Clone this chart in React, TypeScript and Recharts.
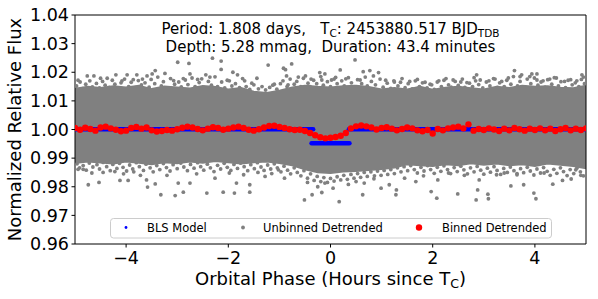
import {
  Area,
  ComposedChart,
  Label,
  Legend,
  Line,
  ReferenceArea,
  Scatter,
  XAxis,
  YAxis,
} from "recharts";

// dense core of the unbinned cloud, read as a lower / upper envelope
const phaseGrid = [
  -5, -4.75, -4.5, -4.25, -4, -3.75, -3.5, -3.25, -3, -2.75, -2.5, -2.25, -2,
  -1.75, -1.5, -1.25, -1, -0.75, -0.5, -0.25, 0, 0.25, 0.5, 0.75, 1, 1.25, 1.5,
  1.75, 2, 2.25, 2.5, 2.75, 3, 3.25, 3.5, 3.75, 4, 4.25, 4.5, 4.75, 5,
];
const coreHigh = [
  1.0143, 1.015, 1.0146, 1.0152, 1.0148, 1.0154, 1.0142, 1.0151, 1.0148, 1.0144,
  1.0153, 1.0149, 1.0141, 1.0146, 1.0133, 1.0128, 1.0136, 1.0148, 1.0154, 1.015,
  1.0148, 1.0152, 1.0154, 1.0149, 1.0141, 1.0146, 1.0141, 1.015, 1.014, 1.0147,
  1.015, 1.0145, 1.0141, 1.015, 1.0146, 1.0154, 1.015, 1.0152, 1.0147, 1.0145,
  1.0154,
];
const coreLow = [
  0.9882, 0.9887, 0.9884, 0.988, 0.9887, 0.9883, 0.9878, 0.9885, 0.9881, 0.9887,
  0.9883, 0.9889, 0.9885, 0.988, 0.9885, 0.9887, 0.9882, 0.9874, 0.986, 0.985,
  0.9847, 0.9852, 0.9854, 0.9858, 0.9861, 0.9866, 0.9878, 0.9874, 0.9872, 0.9878,
  0.9874, 0.9881, 0.9876, 0.988, 0.9874, 0.9878, 0.9872, 0.988, 0.9876, 0.9872,
  0.9864,
];

// semi-dense speckle just outside the core (top edge, then bottom edge)
const fringePhase = [
  -4.97, -4.9, -4.85, -4.79, -4.71, -4.66, -4.58, -4.52, -4.46, -4.41, -4.33,
  -4.27, -4.22, -4.15, -4.1, -4.03, -3.95, -3.9, -3.82, -3.76, -3.7, -3.63,
  -3.55, -3.51, -3.44, -3.38, -3.31, -3.27, -3.19, -3.13, -3.05, -2.97, -2.92,
  -2.84, -2.79, -2.71, -2.65, -2.57, -2.52, -2.46, -2.39, -2.33, -2.26, -2.21,
  -2.13, -2.07, -1.98, -1.93, -1.86, -1.78, -1.72, -1.65, -1.58, -1.5, -1.41,
  -1.34, -1.27, -1.19, -1.13, -1.05, -0.98, -0.93, -0.85, -0.79, -0.71, -0.66,
  -0.58, -0.53, -0.44, -0.4, -0.33, -0.27, -0.19, -0.14, -0.06, 0, 0.07, 0.13,
  0.22, 0.27, 0.35, 0.41, 0.46, 0.53, 0.61, 0.68, 0.72, 0.8, 0.88, 0.97, 1.03,
  1.11, 1.18, 1.24, 1.32, 1.37, 1.46, 1.52, 1.6, 1.66, 1.74, 1.8, 1.89, 1.95,
  2.03, 2.09, 2.17, 2.22, 2.31, 2.36, 2.44, 2.5, 2.58, 2.63, 2.72, 2.78, 2.84,
  2.9, 2.98, 3.05, 3.12, 3.19, 3.27, 3.31, 3.4, 3.45, 3.53, 3.58, 3.66, 3.71,
  3.8, 3.85, 3.92, 3.99, 4.06, 4.12, 4.2, 4.25, 4.33, 4.38, 4.46, 4.51, 4.6,
  4.65, 4.73, 4.79, 4.86, 4.91, 4.97,
  -4.96, -4.91, -4.84, -4.78, -4.72, -4.65, -4.57, -4.52, -4.45, -4.38, -4.31,
  -4.26, -4.18, -4.13, -4.06, -3.99, -3.93, -3.87, -3.8, -3.74, -3.66, -3.61,
  -3.53, -3.47, -3.4, -3.34, -3.27, -3.21, -3.14, -3.08, -3, -2.93, -2.87, -2.8,
  -2.74, -2.67, -2.6, -2.54, -2.48, -2.41, -2.35, -2.28, -2.21, -2.15, -2.08,
  -2.02, -1.95, -1.89, -1.82, -1.76, -1.69, -1.62, -1.56, -1.49, -1.43, -1.36,
  -1.3, -1.23, -1.17, -1.1, -1.04, -0.97, -0.91, -0.84, -0.78, -0.71, -0.65,
  -0.58, -0.52, -0.45, -0.39, -0.32, -0.26, -0.19, -0.13, -0.06, 0, 0.07, 0.13,
  0.2, 0.26, 0.33, 0.4, 0.46, 0.53, 0.59, 0.66, 0.72, 0.79, 0.86, 0.92, 0.99,
  1.05, 1.12, 1.18, 1.25, 1.31, 1.38, 1.44, 1.51, 1.57, 1.64, 1.7, 1.77, 1.83,
  1.9, 1.96, 2.03, 2.09, 2.16, 2.22, 2.29, 2.35, 2.42, 2.48, 2.55, 2.61, 2.68,
  2.74, 2.81, 2.87, 2.94, 3, 3.07, 3.13, 3.2, 3.26, 3.33, 3.39, 3.46, 3.52, 3.59,
  3.65, 3.72, 3.78, 3.85, 3.91, 3.98, 4.04, 4.11, 4.17, 4.24, 4.3, 4.37, 4.43,
  4.5, 4.56, 4.63, 4.69, 4.76, 4.82, 4.89, 4.95,
];
const fringeFlux = [
  1.0152, 1.0166, 1.0143, 1.0158, 1.017, 1.0149, 1.0161, 1.0145, 1.0168, 1.0155,
  1.0147, 1.0172, 1.0158, 1.0144, 1.0163, 1.0176, 1.015, 1.0165, 1.0146, 1.0171,
  1.0156, 1.0163, 1.0148, 1.0175, 1.016, 1.0183, 1.0152, 1.0167, 1.0145, 1.0178,
  1.0158, 1.0166, 1.0149, 1.0173, 1.0157, 1.018, 1.015, 1.0164, 1.0177, 1.0146,
  1.0168, 1.0155, 1.0184, 1.015, 1.0166, 1.0145, 1.017, 1.0152, 1.016, 1.0146,
  1.0178, 1.015, 1.014, 1.0156, 1.0142, 1.015, 1.0138, 1.0147, 1.0155, 1.0141,
  1.016, 1.017, 1.015, 1.0176, 1.0158, 1.0168, 1.015, 1.0179, 1.0162, 1.015,
  1.0172, 1.016, 1.0185, 1.0155, 1.0167, 1.015, 1.0176, 1.016, 1.017, 1.0152,
  1.0181, 1.0163, 1.015, 1.0174, 1.016, 1.0183, 1.0152, 1.0168, 1.0156, 1.0176,
  1.0148, 1.0162, 1.0144, 1.017, 1.0152, 1.0165, 1.0146, 1.016, 1.0142, 1.017,
  1.015, 1.0163, 1.0145, 1.0158, 1.014, 1.0166, 1.015, 1.0172, 1.0156, 1.0148,
  1.0168, 1.0154, 1.0176, 1.0147, 1.0162, 1.015, 1.017, 1.0157, 1.0145, 1.0166,
  1.0152, 1.0178, 1.0147, 1.0163, 1.015, 1.0172, 1.0158, 1.0185, 1.0152, 1.0168,
  1.0149, 1.0176, 1.016, 1.018, 1.0155, 1.0166, 1.0148, 1.0174, 1.0158, 1.0181,
  1.0152, 1.0167, 1.0146, 1.0172, 1.0156, 1.0163, 1.015, 1.0175, 1.016,
  0.988, 0.9866, 0.9874, 0.9858, 0.9883, 0.9869, 0.9877, 0.9862, 0.9885, 0.987,
  0.9856, 0.9878, 0.9864, 0.9882, 0.9868, 0.9855, 0.9876, 0.9862, 0.9884, 0.987,
  0.9857, 0.9879, 0.9866, 0.9852, 0.9874, 0.986, 0.9881, 0.9867, 0.9855, 0.9877,
  0.9863, 0.9883, 0.9869, 0.9856, 0.9878, 0.9865, 0.9884, 0.987, 0.9858, 0.9879,
  0.9866, 0.9853, 0.9875, 0.9862, 0.9882, 0.9868, 0.9857, 0.9878, 0.9864, 0.9883,
  0.987, 0.9856, 0.9877, 0.9863, 0.9884, 0.9869, 0.9857, 0.9876, 0.9862, 0.988,
  0.9866, 0.9852, 0.9872, 0.9858, 0.9845, 0.9866, 0.985, 0.9838, 0.9856, 0.983,
  0.9845, 0.9822, 0.9836, 0.9818, 0.9832, 0.9815, 0.9829, 0.982, 0.9835, 0.9824,
  0.984, 0.9826, 0.9843, 0.983, 0.9846, 0.9833, 0.985, 0.9836, 0.9852, 0.9838,
  0.9855, 0.984, 0.9857, 0.9843, 0.986, 0.9846, 0.9866, 0.9852, 0.987, 0.9856,
  0.9874, 0.986, 0.9848, 0.9868, 0.9855, 0.9874, 0.986, 0.9847, 0.9868, 0.9854,
  0.9873, 0.986, 0.9846, 0.9867, 0.9853, 0.9872, 0.9859, 0.9845, 0.9866, 0.9852,
  0.9871, 0.9858, 0.9844, 0.9865, 0.9851, 0.987, 0.9857, 0.9843, 0.9864, 0.985,
  0.9869, 0.9856, 0.9842, 0.9863, 0.9849, 0.9868, 0.9855, 0.9841, 0.9862, 0.9848,
  0.9867, 0.9854, 0.984, 0.9861, 0.9847, 0.9866, 0.9853, 0.9839, 0.986, 0.9846,
  0.9865, 0.9852, 0.9838,
];

// loose unbinned outliers further out (top, then bottom)
const loosePhase = [
  -4.94, -4.76, -4.63, -4.5, -4.37, -4.2, -4.08, -3.98, -3.86, -3.79, -3.68,
  -3.59, -3.49, -3.43, -3.24, -3.07, -2.99, -2.88, -2.77, -2.75, -2.6, -2.44,
  -2.36, -2.31, -2.14, -2.14, -2.02, -1.91, -1.82, -1.68, -1.54, -1.44, -1.22,
  -1.1, -0.92, -0.88, -0.86, -0.83, -0.76, -0.63, -0.49, -0.38, -0.21, -0.17,
  -0.11, 0.02, 0.1, 0.19, 0.3, 0.48, 0.58, 0.64, 0.77, 0.84, 0.94, 1.08, 1.25,
  1.4, 1.55, 1.7, 1.85, 1.98, 2.12, 2.26, 2.4, 2.55, 2.67, 2.81, 2.86, 2.93, 3.1,
  3.22, 3.35, 3.48, 3.6, 3.71, 3.74, 3.9, 3.94, 4.04, 4.04, 4.16, 4.29, 4.42,
  4.58, 4.7, 4.82, 4.92, 4.95,
  -4.94, -4.84, -4.74, -4.67, -4.53, -4.45, -4.22, -4.12, -4.05, -3.96, -3.85,
  -3.72, -3.6, -3.58, -3.43, -3.32, -3.2, -3.04, -2.98, -2.88, -2.75, -2.62,
  -2.42, -2.26, -2.1, -1.98, -1.88, -1.84, -1.7, -1.58, -1.58, -1.42, -1.28,
  -1.15, -1.02, -0.9, -0.51, -0.45, -0.36, -0.25, -0.17, -0.11, 0.05, 0.17, 0.35,
  0.5, 0.63, 0.66, 0.85, 0.99, 1.15, 1.28, 1.29, 1.45, 1.67, 1.82, 1.97, 2.08,
  2.1, 2.31, 2.49, 2.62, 2.85, 2.88, 2.91, 3.08, 3.09, 3.25, 3.4, 3.53, 3.65,
  3.78, 3.98, 4.02, 4.18, 4.35, 4.54, 4.71, 4.8, 4.9,
];
const looseFlux = [
  1.0172, 1.0187, 1.0187, 1.0179, 1.0179, 1.0191, 1.017, 1.0191, 1.0174, 1.0191,
  1.0176, 1.0187, 1.0194, 1.0206, 1.0196, 1.0171, 1.0235, 1.0178, 1.0231, 1.0194,
  1.0175, 1.0191, 1.0183, 1.0249, 1.0239, 1.021, 1.0172, 1.02, 1.0191, 1.017,
  1.0162, 1.0179, 1.0225, 1.0158, 1.0214, 1.0209, 1.0187, 1.0156, 1.0229, 1.0183,
  1.0187, 1.0176, 1.0199, 1.0173, 1.0194, 1.0173, 1.0182, 1.0208, 1.0177, 1.0243,
  1.0173, 1.0202, 1.0206, 1.0187, 1.0199, 1.0172, 1.0166, 1.0178, 1.0168, 1.0175,
  1.0165, 1.0156, 1.017, 1.0178, 1.0173, 1.0166, 1.0164, 1.0181, 1.0191, 1.0173,
  1.017, 1.0176, 1.0168, 1.018, 1.0206, 1.0185, 1.0191, 1.0185, 1.0194, 1.0194,
  1.0173, 1.017, 1.0176, 1.018, 1.0168, 1.0174, 1.017, 1.0191, 1.0183,
  0.9861, 0.9861, 0.9807, 0.9848, 0.9815, 0.985, 0.9853, 0.9822, 0.9845, 0.9822,
  0.9852, 0.984, 0.9824, 0.9799, 0.981, 0.9772, 0.984, 0.9769, 0.9813, 0.9781,
  0.9813, 0.9845, 0.9778, 0.983, 0.9781, 0.9848, 0.9778, 0.9813, 0.9842, 0.9781,
  0.9807, 0.985, 0.9836, 0.9846, 0.9859, 0.983, 0.9754, 0.9815, 0.9772, 0.98,
  0.978, 0.9813, 0.9795, 0.9748, 0.9808, 0.9818, 0.9772, 0.9813, 0.9828, 0.9795,
  0.9807, 0.9772, 0.9789, 0.983, 0.9818, 0.9838, 0.9783, 0.976, 0.9824, 0.9848,
  0.9775, 0.984, 0.9754, 0.9789, 0.9824, 0.9774, 0.9758, 0.9842, 0.9848, 0.9803,
  0.9846, 0.9807, 0.9778, 0.9758, 0.9848, 0.9809, 0.9822, 0.9827, 0.9859, 0.984,
];

// binned detrended flux
const binPhase = [
  -5, -4.9, -4.8, -4.7, -4.6, -4.5, -4.4, -4.3, -4.2, -4.1, -4, -3.9, -3.8, -3.7,
  -3.6, -3.5, -3.4, -3.3, -3.2, -3.1, -3, -2.9, -2.8, -2.7, -2.6, -2.5, -2.4,
  -2.3, -2.2, -2.1, -2, -1.9, -1.8, -1.7, -1.6, -1.5, -1.4, -1.3, -1.2, -1.1, -1,
  -0.9, -0.8, -0.7, -0.6, -0.5, -0.4, -0.3, -0.2, -0.1, 0, 0.1, 0.2, 0.3, 0.4,
  0.5, 0.6, 0.7, 0.8, 0.9, 1, 1.1, 1.2, 1.3, 1.4, 1.5, 1.6, 1.7, 1.8, 1.9, 2,
  2.1, 2.2, 2.3, 2.4, 2.5, 2.6, 2.7, 2.8, 2.9, 3, 3.1, 3.2, 3.3, 3.4, 3.5, 3.6,
  3.7, 3.8, 3.9, 4, 4.1, 4.2, 4.3, 4.4, 4.5, 4.6, 4.7, 4.8, 4.9, 5,
];
const binFlux = [
  1.0005, 0.9999, 1.0006, 1.0002, 0.9996, 1.0007, 1.001, 1.0004, 0.9999, 0.9994,
  0.9996, 1.0005, 1.0009, 1.0003, 1.0007, 0.9997, 0.9993, 0.9995, 0.9998, 0.9996,
  1.0001, 1.0006, 1.001, 1.0007, 1.0002, 0.9997, 1.0003, 1.0008, 1.0005, 0.9999,
  1.0003, 1.0007, 1.001, 1.0005, 0.9999, 0.9996, 1.0001, 1.0007, 1.0012, 1.0013,
  1.0009, 1.0005, 1.0001, 0.9998, 0.9999, 0.9995, 0.9988, 0.998, 0.9973, 0.9969,
  0.9971, 0.9974, 0.9978, 0.9988, 1.0004, 1.0011, 1.0014, 1.0011, 1.0007, 1.0,
  1.0005, 1.0008, 1.0003, 0.9997, 1.0002, 1.0007, 1.0004, 0.9997, 0.9994, 0.9998,
  0.9986, 1.0002, 0.9997, 1.0004, 1.0007, 1.001, 1.0004, 1.0018, 0.9996, 1.0002,
  0.9998, 1.0004, 1.0, 0.9995, 1.0003, 0.9997, 1.0005, 1.0001, 0.9996, 1.0003,
  0.9998, 1.0004, 0.9997, 1.0003, 0.9995, 1.0001, 1.0005, 0.9997, 1.0003, 0.9998,
  1.0004,
];

// BLS box model: out of transit / in transit / out of transit
const blsStart = [-5, -0.37, 0.36];
const blsEnd = [-0.34, 0.37, 5];
const blsFlux = [1.0001, 0.9952, 1.0001];

const xTicks = [-4, -2, 0, 2, 4];
const yTicks = [0.96, 0.97, 0.98, 0.99, 1.0, 1.01, 1.02, 1.03, 1.04];

const legendNames = ["BLS Model", "Unbinned Detrended", "Binned Detrended"];
const legendColors = ["#0000ff", "#808080", "#ff0000"];

const FONT = "'DejaVu Sans', Verdana, sans-serif";

const coreData = phaseGrid.map((x, i) => ({ x, band: [coreLow[i], coreHigh[i]] }));
const unbinnedData = [
  ...fringePhase.map((x, i) => ({ x, y: fringeFlux[i] })),
  ...loosePhase.map((x, i) => ({ x, y: looseFlux[i] })),
];
const binData = binPhase.map((x, i) => ({ x, y: binFlux[i] }));
const blsData = blsStart.map((s, i) => [
  { x: s, flux: blsFlux[i] },
  { x: blsEnd[i], flux: blsFlux[i] },
]);

const fmtX = (v: number) => (v < 0 ? `\u2212${-v}` : `${v}`);

const grayDot = (p: any) => <circle cx={p.cx} cy={p.cy} r={1.9} fill="#808080" />;
const redDot = (p: any) => <circle cx={p.cx} cy={p.cy} r={3.2} fill="#ff0000" />;

function renderLegend() {
  const dotX = [16, 133, 309];
  const textX = [37, 153, 332];
  const dotR = [1.4, 1.9, 3.2];
  return (
    <svg width={442} height={21} style={{ display: "block" }}>
      <rect x={0.5} y={0.5} width={441} height={19.5} rx={3} fill="#fff" fillOpacity={0.8} stroke="#cccccc" />
      {legendNames.map((name, i) => (
        <g key={name}>
          <circle cx={dotX[i]} cy={9.5} r={dotR[i]} fill={legendColors[i]} />
          <text x={textX[i]} y={14} fontFamily={FONT} fontSize={11.5} fill="#000">
            {name}
          </text>
        </g>
      ))}
    </svg>
  );
}

function renderNote({ viewBox }: any) {
  const cx = viewBox.x + viewBox.width / 2;
  return (
    <g fontFamily={FONT} fontSize={15} fill="#000" textAnchor="middle">
      <text x={cx} y={viewBox.y + 19}>
        {"Period: 1.808 days,\u00a0\u00a0\u00a0T"}
        <tspan fontSize={10.5} dy={3}>C</tspan>
        <tspan dy={-3}>: 2453880.517 BJD</tspan>
        <tspan fontSize={10.5} dy={3}>TDB</tspan>
      </text>
      <text x={cx} y={viewBox.y + 36.7}>
        {"Depth: 5.28 mmag,\u00a0\u00a0Duration: 43.4 minutes"}
      </text>
    </g>
  );
}

function renderXTitle({ viewBox }: any) {
  return (
    <text x={viewBox.x + viewBox.width / 2} y={viewBox.y + 41} textAnchor="middle" fontFamily={FONT} fontSize={18} fill="#000">
      Orbital Phase (Hours since T
      <tspan fontSize={12.6} dy={3}>C</tspan>
      <tspan dy={-3}>)</tspan>
    </text>
  );
}

function renderYTitle({ viewBox }: any) {
  const x = viewBox.x + 21;
  const y = viewBox.y + viewBox.height / 2;
  return (
    <text x={x} y={y} transform={`rotate(-90, ${x}, ${y})`} textAnchor="middle" fontFamily={FONT} fontSize={18} fill="#000">
      Normalized Relative Flux
    </text>
  );
}

export default function App() {
  const tick = { fontFamily: FONT, fontSize: 17.5, fill: "#000" };
  return (
    <div style={{ position: "absolute", left: 0, top: 0, background: "#fff" }}>
      <ComposedChart width={598} height={299} data={coreData} margin={{ top: 15, right: 12, left: 0, bottom: 0 }}>
        <XAxis
          dataKey="x"
          type="number"
          domain={[-5, 5]}
          ticks={xTicks}
          tickFormatter={fmtX}
          allowDataOverflow
          axisLine={false}
          tickLine={{ stroke: "#000" }}
          tickSize={3.5}
          tickMargin={4}
          tick={tick}
          height={55}
        >
          <Label content={renderXTitle} />
        </XAxis>
        <YAxis
          type="number"
          domain={[0.96, 1.04]}
          ticks={yTicks}
          tickFormatter={(v: number) => v.toFixed(2)}
          allowDataOverflow
          axisLine={false}
          tickLine={{ stroke: "#000" }}
          tickSize={3.5}
          tickMargin={2.5}
          tick={tick}
          width={75}
        >
          <Label content={renderYTitle} />
        </YAxis>
        <Area
          dataKey="band"
          type="linear"
          stroke="#808080"
          strokeWidth={1.5}
          fill="#808080"
          fillOpacity={1}
          dot={false}
          activeDot={false}
          isAnimationActive={false}
          legendType="none"
        />
        <Scatter data={unbinnedData} dataKey="y" shape={grayDot} isAnimationActive={false} name="Unbinned Detrended" />
        <Scatter data={binData} dataKey="y" shape={redDot} isAnimationActive={false} name="Binned Detrended" />
        {blsData.map((seg, i) => (
          <Line
            key={i}
            data={seg}
            dataKey="flux"
            type="linear"
            stroke="#0000ff"
            strokeWidth={4.6}
            strokeLinecap="round"
            dot={false}
            activeDot={false}
            isAnimationActive={false}
            legendType="none"
          />
        ))}
        <ReferenceArea x1={-5} x2={5} y1={0.96} y2={1.04} fill="none" fillOpacity={0} stroke="#000" strokeWidth={1}>
          <Label content={renderNote} />
        </ReferenceArea>
        <Legend
          layout="horizontal"
          verticalAlign="middle"
          align="center"
          content={renderLegend}
          wrapperStyle={{ position: "absolute", left: 110, top: 218, width: 442, height: 21 }}
        />
      </ComposedChart>
    </div>
  );
}
